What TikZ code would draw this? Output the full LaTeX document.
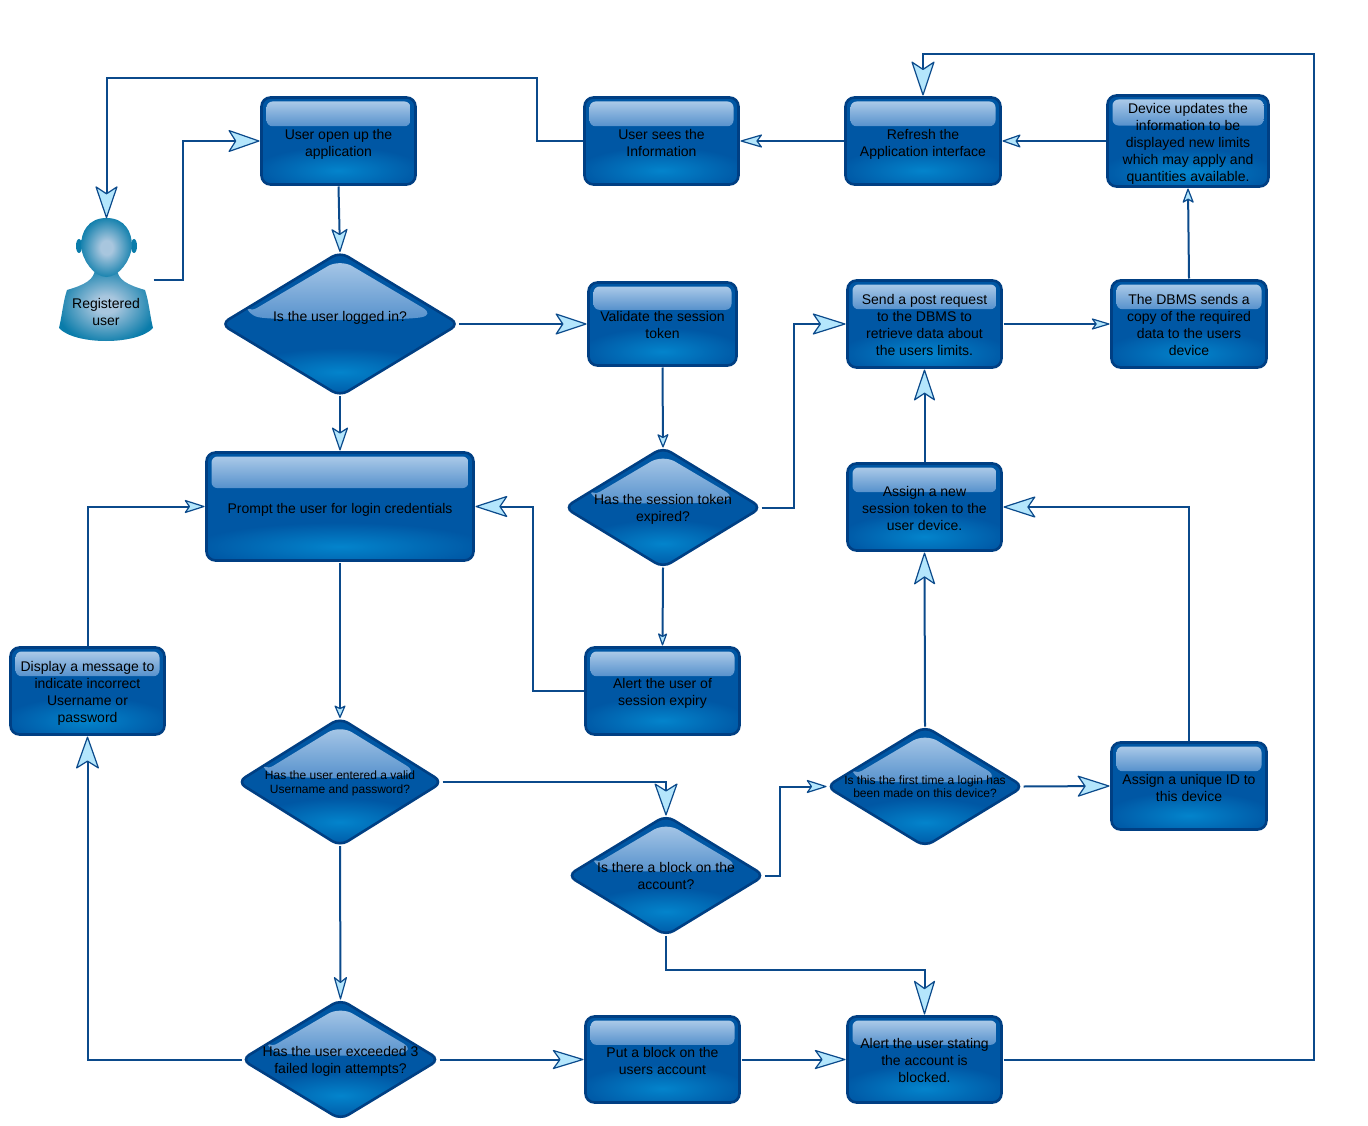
\documentclass[tikz,border=0pt]{standalone}
\usepackage{fontspec}
\setmainfont{Liberation Sans}
\usetikzlibrary{arrows.meta,calc,shapes.geometric,positioning}

\definecolor{boxbase}{HTML}{0057A4}
\definecolor{boxedge}{HTML}{003F83}
\definecolor{glowblue}{HTML}{0384CC}
\definecolor{glosstop}{HTML}{AAC9E8}
\definecolor{glossbot}{HTML}{5691CC}
\definecolor{linkblue}{HTML}{0B4A8B}
\definecolor{tipfill}{HTML}{B4E6FC}
\definecolor{userlight}{HTML}{A8C6DE}
\definecolor{userdark}{HTML}{0A7CAA}

\pgfdeclareradialshading{usersoft}{\pgfpointorigin}{color(0bp)=(userlight); color(6bp)=(userlight); color(27bp)=(userdark); color(50bp)=(userdark)}

\newcommand{\flatlabel}[2][-6.5pt]{\makebox[0pt]{\smash{\raisebox{#1}{\begin{tabular}[c]{@{}c@{}}#2\end{tabular}}}}}

\tikzset{
    glossbox/.style 2 args={
        draw=boxedge, line width=2.6pt, fill=boxbase, rounded corners=9pt, outer sep=2pt,
        inner sep=0pt, text=black, minimum width=#1, minimum height=#2,
        node font=\fontsize{14}{17}\selectfont,
        path picture={
            \coordinate (nw) at (path picture bounding box.north west);
            \coordinate (ne) at (path picture bounding box.north east);
            \coordinate (se) at (path picture bounding box.south east);
            \coordinate (s) at (path picture bounding box.south);
            \shade[inner color=glowblue, outer color=boxbase]
                let \p1=($(ne)-(nw)$) in ($(s)+(0,-14)$) ellipse [x radius=.55*\x1, y radius=24pt];
            \shade[top color=glosstop, bottom color=glossbot, rounded corners=6pt]
                ($(nw)+(5,4)$) rectangle ($(ne)!.33!(se)+(-5,0)$);
        }
    },
    glossdiamond/.style n args={3}{
        draw=boxedge, line width=2.6pt, fill=boxbase, diamond, rounded corners=9pt, outer sep=0pt,
        inner sep=0pt, text=black, minimum width=#1, minimum height=#2, shape aspect=1.6,
        node font=#3,
        path picture={
            \coordinate (n) at (path picture bounding box.north);
            \coordinate (s) at (path picture bounding box.south);
            \coordinate (e) at (path picture bounding box.east);
            \coordinate (w) at (path picture bounding box.west);
            \shade[inner color=glowblue, outer color=boxbase]
                let \p1=($(e)-(w)$) in ($(s)+(0,-24)$) ellipse [x radius=.42*\x1, y radius=24pt];
            \shade[top color=glosstop, bottom color=glossbot, rounded corners=14pt]
                ($(w)+(24,-9)$) -- ($(n)+(0,7)$) -- ($(e)+(-24,-9)$)
                .. controls ($(e)+(-60,-3)$) and ($(w)+(60,-3)$) .. cycle;
        }
    },
    usershade/.style={shading=usersoft},
    usertext/.style={text=black, node font=\fontsize{14}{17}\selectfont},
    link/.style 2 args={
        draw=linkblue, line width=2pt, rounded corners=0pt,
        -{Stealth[length=#1, width=#2, inset=.22*#1, fill=tipfill, line width=1.2pt, round]}
    },
}

\begin{document}
\begin{tikzpicture}[x=1pt, y=-1pt]
    \useasboundingbox (0,0) rectangle (1368,1126);

    % User figure
    \shade[usershade] (95,268) .. controls (95,280) and (84,285) .. (67,290)
        .. controls (63,302) and (62,316) .. (59,328)
        .. controls (66,336) and (85,341) .. (106,341)
        .. controls (127,341) and (146,336) .. (153,328)
        .. controls (150,316) and (149,302) .. (145,290)
        .. controls (128,285) and (117,280) .. (117,268) -- cycle;
    \fill[userdark] (79,246) ellipse [x radius=3, y radius=7];
    \fill[userdark] (134,246) ellipse [x radius=3, y radius=7];
    \shade[usershade] (106.5,218) .. controls (88,218) and (81,232) .. (81,246)
        .. controls (82,260) and (94,277) .. (106.5,277)
        .. controls (119,277) and (131,260) .. (132,246)
        .. controls (132,232) and (125,218) .. (106.5,218) -- cycle;

    % Nodes
    \node (user) at (106.5,280) [minimum width=94pt, minimum height=123pt, inner sep=0pt] {};
    \node (userlabel) at (106,312) [usertext] {\flatlabel[-5pt]{Registered\\user}};

    \node (open) at (338.5,141) [glossbox={154pt}{87pt}] {\flatlabel[-7pt]{User open up the\\application}};
    \node (seen) at (661.5,141) [glossbox={154pt}{87pt}] {\flatlabel[-7pt]{User sees the\\Information}};
    \node (refresh) at (923,141) [glossbox={155pt}{87pt}] {\flatlabel[-7pt]{Refresh the\\Application interface}};
    \node (updates) at (1188,141) [glossbox={161pt}{91pt}] {\flatlabel[-7pt]{Device updates the\\information to be\\displayed new limits\\which may apply and\\quantities available.}};
    \node (validate) at (662.5,324) [glossbox={148pt}{83pt}] {\flatlabel{Validate the session\\token}};
    \node (post) at (924.5,324) [glossbox={154pt}{87pt}] {\flatlabel[-6pt]{Send a post request\\to the DBMS to\\retrieve data about\\the users limits.}};
    \node (dbms) at (1189,324) [glossbox={155pt}{87pt}] {\flatlabel[-6pt]{The DBMS sends a\\copy of the required\\data to the users\\device}};
    \node (prompt) at (340,506.5) [glossbox={267pt}{108pt}] {\flatlabel[-7pt]{Prompt the user for login credentials}};
    \node (newtoken) at (924.5,507) [glossbox={154pt}{87pt}] {\flatlabel[-7pt]{Assign a new\\session token to the\\user device.}};
    \node (expiry) at (662.5,691) [glossbox={154pt}{87pt}] {\flatlabel[-6pt]{Alert the user of\\session expiry}};
    \node (display) at (87.5,691) [glossbox={154pt}{87pt}] {\flatlabel[-6pt]{Display a message to\\indicate incorrect\\Username or\\password}};
    \node (uniqueid) at (1189,786) [glossbox={155pt}{87pt}] {\flatlabel[-7pt]{Assign a unique ID to\\this device}};
    \node (putblock) at (662.5,1059.5) [glossbox={154pt}{86pt}] {\flatlabel[-7pt]{Put a block on the\\users account}};
    \node (blocked) at (924.5,1059.5) [glossbox={154pt}{86pt}] {\flatlabel[-6pt]{Alert the user stating\\the account is\\blocked.}};

    \node (logged) at (340,324) [glossdiamond={238pt}{144pt}{\fontsize{14}{17}\selectfont}] {\flatlabel[2pt]{Is the user logged in?}};
    \node (expired) at (663,507.5) [glossdiamond={197pt}{120pt}{\fontsize{14}{17}\selectfont}] {\flatlabel[-6pt]{Has the session token\\expired?}};
    \node (valid) at (340,782) [glossdiamond={205pt}{128pt}{\fontsize{12}{13.5}\selectfont}] {\flatlabel[-5pt]{Has the user entered a valid\\Username and password?}};
    \node (blockq) at (666,875.5) [glossdiamond={197pt}{120pt}{\fontsize{14}{17}\selectfont}] {\flatlabel[-6pt]{Is there a block on the\\account?}};
    \node (first) at (925,786.5) [glossdiamond={197pt}{120pt}{\fontsize{12}{13.5}\selectfont}] {\flatlabel[-5pt]{Is this the first time a login has\\been made on this device?}};
    \node (exceeded) at (340.5,1059.5) [glossdiamond={198pt}{120pt}{\fontsize{14}{17}\selectfont}] {\flatlabel[-6pt]{Has the user exceeded 3\\failed login attempts?}};

    % Connectors
    \draw[link={33pt}{23pt}] (user.east) -- ++(29,0) |- (open.west);
    \draw[link={34pt}{23pt}] (seen.west) -- ++(-46,0) -- ++(0,-63) -| (user.north);
    \draw[link={25pt}{17pt}] (open.south) -- (logged.north);
    \draw[link={33pt}{22pt}] (logged.east) -- (validate.west);
    \draw[link={25pt}{17pt}] (logged.south) -- (prompt.north);
    \draw[link={15pt}{12pt}] (validate.south) -- (expired.north);
    \draw[link={35pt}{22pt}] (expired.east) -- ++(32,0) |- (post.west);
    \draw[link={14pt}{10pt}] (expired.south) -- (expiry.north);
    \draw[link={34pt}{22pt}] (expiry.west) -- ++(-51,0) |- (prompt.east);
    \draw[link={33pt}{22pt}] (newtoken.north) -- (post.south);
    \draw[link={34pt}{22pt}] (first.north) -- (newtoken.south);
    \draw[link={34pt}{22pt}] (uniqueid.north) |- (newtoken.east);
    \draw[link={34pt}{22pt}] (first.east) -- (uniqueid.west);
    \draw[link={22pt}{14pt}] (blockq.east) -- ++(15,0) |- (first.west);
    \draw[link={34pt}{24pt}] (valid.east) -| (blockq.north);
    \draw[link={25pt}{14pt}] (valid.south) -- (exceeded.north);
    \draw[link={14pt}{12pt}] (prompt.south) -- (valid.north);
    \draw[link={34pt}{24pt}] (exceeded.west) -| (display.south);
    \draw[link={22pt}{14pt}] (display.north) |- (prompt.west);
    \draw[link={33pt}{20pt}] (exceeded.east) -- (putblock.west);
    \draw[link={33pt}{20pt}] (putblock.east) -- (blocked.west);
    \draw[link={36pt}{22pt}] (blockq.south) -- ++(0,34) -| (blocked.north);
    \draw[link={36pt}{24pt}] (blocked.east) -- ++(310,0) -- ++(0,-1005.5) -| (refresh.north);
    \draw[link={24pt}{14pt}] (refresh.west) -- (seen.east);
    \draw[link={20pt}{14pt}] (updates.west) -- (refresh.east);
    \draw[link={16pt}{12pt}] (dbms.north) -- (updates.south);
    \draw[link={20pt}{12pt}] (post.east) -- (dbms.west);
\end{tikzpicture}
\end{document}
